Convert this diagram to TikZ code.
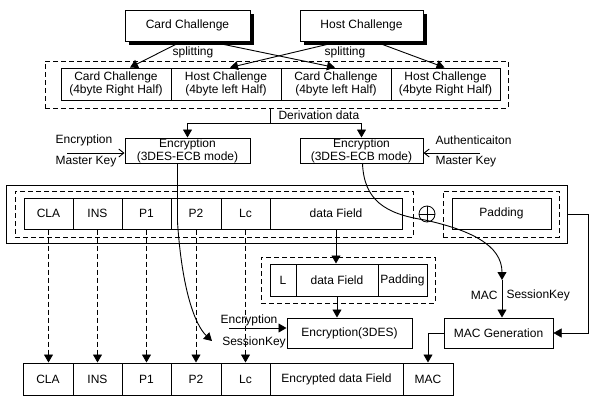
\documentclass[tikz,border=0pt]{standalone}
\usepackage{fontspec}
\setmainfont{Liberation Sans}
\usetikzlibrary{arrows.meta}

\begin{document}
\begin{tikzpicture}[x=1pt,y=-1pt,
    font=\fontsize{12}{13}\selectfont,
    box/.style={draw,line width=1pt,inner sep=0pt,align=center},
    cell/.style={box,minimum height=31pt},
    shadowbox/.style={box,fill=white},
    dbox/.style={draw,line width=1pt,dash pattern=on 5pt off 3pt,inner sep=0pt},
    arr/.style={line width=0.9pt,-{Triangle[length=8pt,width=9pt]}},
    darr/.style={arr,dash pattern=on 5pt off 3pt},
    open/.style={line width=0.9pt,-{Straight Barb[length=5pt,width=8pt]}}]
\useasboundingbox (0,0) rectangle (591,397);

% challenges
\fill (129,14) rectangle (254,45);
\fill (304,14) rectangle (427,45);
\node[shadowbox,minimum width=125pt,minimum height=31pt] (card) at (187.5,25.5) {Card Challenge};
\node[shadowbox,minimum width=123pt,minimum height=31pt] (host) at (361.5,25.5) {Host Challenge};

\node[dbox,minimum width=463pt,minimum height=47pt] (deriv) at (276.5,84.5) {};
\node[cell,minimum width=110pt,minimum height=32pt] (ccR) at (116,84) {Card Challenge\\(4byte Right Half)};
\node[cell,minimum width=110pt,minimum height=32pt] (hcL) at (226,84) {Host Challenge\\(4byte left Half)};
\node[cell,minimum width=110pt,minimum height=32pt] (ccL) at (336,84) {Card Challenge\\(4byte left Half)};
\node[cell,minimum width=109pt,minimum height=32pt] (hcR) at (445.5,84) {Host Challenge\\(4byte Right Half)};

\draw[arr] ([xshift=-6pt]card.south) -- ([xshift=14pt]ccR.north);
\draw[arr] ([xshift=22pt]card.south) -- ([xshift=-1pt]ccL.north);
\draw[arr] ([xshift=-22pt]host.south) -- ([xshift=4pt]hcL.north);
\draw[arr] ([xshift=13pt]host.south) -- ([xshift=-1pt]hcR.north);
\node (splitC) at (193,52) {splitting};
\node (splitH) at (345,52) {splitting};

% session keys
\node[box,minimum width=125pt,minimum height=25pt] (encL) at (187.5,150.5) {Encryption\\(3DES-ECB mode)};
\node[box,minimum width=123pt,minimum height=25pt] (encR) at (361.5,150.5) {Encryption\\(3DES-ECB mode)};
\coordinate (split) at (270,123);
\draw[line width=0.9pt] (split |- deriv.south) -- (split);
\draw[arr] (split) -| (encL.north);
\draw[arr] (split) -| (encR.north);
\node[anchor=west] (derivtxt) at (275,115) {Derivation data};

\coordinate (mkL) at (67,153);
\coordinate (mkR) at (480,153);
\draw[open] (mkL) -- (mkL -| encL.west);
\draw[open] (mkR) -- (mkR -| encR.east);
\node (encmk) at (84,140) {Encryption};
\node (mkLtxt) at (86,162) {Master Key};
\node[anchor=west] (authmk) at (432,140) {Authenticaiton};
\node[anchor=west] (mkRtxt) at (432,162) {Master Key};

% command
\node[box,minimum width=561pt,minimum height=58pt] (msg) at (286.5,214) {};
\node[dbox,minimum width=398pt,minimum height=46pt] (hdr) at (214,214) {};
\node[dbox,minimum width=116pt,minimum height=46pt] (padbox) at (501,214) {};
\node[cell,minimum width=49pt] (claA) at (48.5,213.5) {CLA};
\node[cell,minimum width=49pt] (insA) at (97.5,213.5) {INS};
\node[cell,minimum width=49pt] (ponA) at (146.5,213.5) {P1};
\node[cell,minimum width=50pt] (ptwA) at (196,213.5) {P2};
\node[cell,minimum width=49pt] (lcA) at (245.5,213.5) {Lc};
\node[cell,minimum width=132pt] (dataA) at (336,213.5) {data Field};
\node[cell,minimum width=99pt] (padA) at (501.5,213.5) {Padding};
\node[draw,circle,line width=0.8pt,minimum size=16pt,inner sep=0pt] (xor) at (427,214) {};
\draw[line width=0.8pt] (xor.north) -- (xor.south) (xor.west) -- (xor.east);

% encryption of data field
\node[dbox,minimum width=174pt,minimum height=46pt] (mid) at (348,280) {};
\node[cell,minimum width=26pt,minimum height=32pt] (lB) at (283,280) {L};
\node[cell,minimum width=82pt,minimum height=32pt] (dataB) at (337,280) {data Field};
\node[cell,minimum width=49pt,minimum height=32pt] (padB) at (402.5,280) {Padding};
\draw[arr] (dataA.south) -- (dataA.south |- dataB.north);

\node[box,minimum width=125pt,minimum height=30pt] (enc3) at (349.5,333) {Encryption(3DES)};
\node[box,minimum width=109pt,minimum height=30pt] (macgen) at (498.5,333) {MAC Generation};
\draw[arr] (dataB.south) -- (dataB.south |- enc3.north);

% result
\node[cell,minimum width=50pt,minimum height=32pt] (claB) at (48,379) {CLA};
\node[cell,minimum width=49pt,minimum height=32pt] (insB) at (97.5,379) {INS};
\node[cell,minimum width=49pt,minimum height=32pt] (ponB) at (146.5,379) {P1};
\node[cell,minimum width=50pt,minimum height=32pt] (ptwB) at (196,379) {P2};
\node[cell,minimum width=49pt,minimum height=32pt] (lcB) at (245.5,379) {Lc};
\node[cell,minimum width=133pt,minimum height=32pt] (encdata) at (336.5,379) {Encrypted data Field};
\node[cell,minimum width=50pt,minimum height=32pt] (mac) at (428,379) {MAC};

\draw[darr] (claA.south) -- (claA.south |- claB.north);
\draw[darr] (insA.south) -- (insA.south |- insB.north);
\draw[darr] (ponA.south) -- (ponA.south |- ponB.north);
\draw[darr] (ptwA.south) -- (ptwA.south |- ptwB.north);
\draw[darr] (lcA.south) -- (lcA.south |- lcB.north);

% keys
\coordinate (keyL) at (212,341);
\draw[arr] ([xshift=-10pt]encL.south) -- (177.5,222) .. controls (182,290) and (195,325) .. (keyL);
\coordinate (esk) at (229,328);
\draw[arr] (esk) -- (esk -| enc3.west);
\node (encsk) at (249,320) {Encryption};
\node (sktxt) at (254,342) {SessionKey};

\coordinate (keyR) at (502,280);
\draw[arr] ([xshift=1pt]encR.south) .. controls (364,200) and (385,214) .. (425,220)
    .. controls (470,230) and (502,245) .. (keyR);
\draw[arr] (keyR) -- (keyR |- macgen.north);
\node[anchor=east] (mactxt) at (501,295) {MAC};
\node[anchor=west] (msktxt) at (503,295) {SessionKey};

\coordinate (loop) at (588,214);
\draw[line width=0.5pt] (msg.east) -- (loop);
\draw[arr,line width=0.5pt] (loop) |- (macgen.east);
\draw[arr] (macgen.west) -| (mac.north);
\end{tikzpicture}
\end{document}
